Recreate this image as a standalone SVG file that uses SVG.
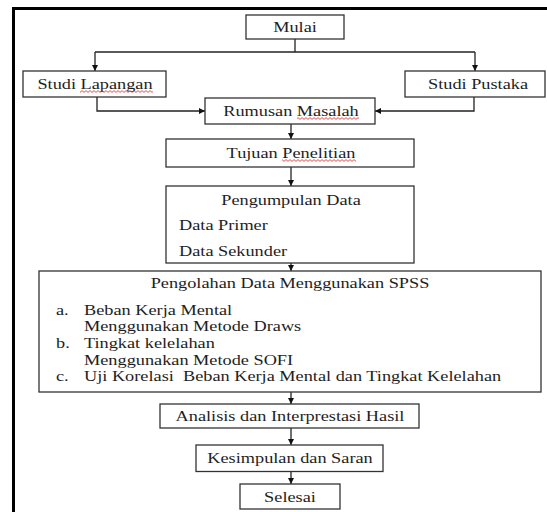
<svg xmlns="http://www.w3.org/2000/svg" width="547" height="512" viewBox="0 0 547 512">
<style>
.box{fill:#fff;stroke:#333;stroke-width:1.3}
.t{font-family:'Liberation Serif','DejaVu Serif','Times New Roman',serif;font-size:15.5px;fill:#1e1e1e}
.c{text-anchor:middle}
.ln{fill:none;stroke:#222;stroke-width:1.3}
.sq{fill:url(#sq)}
</style>
<defs>
<marker id="ah" viewBox="0 0 8 8" refX="8" refY="4" markerWidth="6" markerHeight="6" orient="auto" markerUnits="userSpaceOnUse"><path d="M0,0 L8,4 L0,8 z" fill="#111"/></marker>
<pattern id="sq" width="4" height="3" patternUnits="userSpaceOnUse"><path d="M0,2.4 L2,0.6 L4,2.4" fill="none" stroke="#e02020" stroke-width="0.8"/></pattern>
</defs>
<rect x="0" y="0" width="547" height="512" fill="#fff"/>
<rect id="frame" x="13.5" y="8.5" width="700" height="700" fill="none" stroke="#000" stroke-width="3"/>
<g id="connectors">
<path class="ln" d="M295,39 V52"/>
<path class="ln" d="M95,52 H475"/>
<path class="ln" d="M95,52 V71" marker-end="url(#ah)"/>
<path class="ln" d="M475,52 V71" marker-end="url(#ah)"/>
<path class="ln" d="M97,97 V111 H205" marker-end="url(#ah)"/>
<path class="ln" d="M474,97 V111 H375" marker-end="url(#ah)"/>
<path class="ln" d="M291,124 V139" marker-end="url(#ah)"/>
<path class="ln" d="M291,167 V186" marker-end="url(#ah)"/>
<path class="ln" d="M291,263 V271" marker-end="url(#ah)"/>
<path class="ln" d="M291,392 V404" marker-end="url(#ah)"/>
<path class="ln" d="M291,428 V445" marker-end="url(#ah)"/>
<path class="ln" d="M291,471.5 V484" marker-end="url(#ah)"/>
</g>
<g font-family="Liberation Serif, DejaVu Serif, serif">
<g id="mulai">
<rect class="box" x="246" y="15" width="98" height="24"/>
<text class="t c" transform="translate(295,32) scale(1.18,1)">Mulai</text>
</g>
<g id="studi-lapangan">
<rect class="box" x="23" y="71" width="143" height="26"/>
<text class="t c" transform="translate(95,89) scale(1.18,1)">Studi Lapangan</text>
<rect class="sq" x="80" y="90" width="73" height="3"/>
</g>
<g id="studi-pustaka">
<rect class="box" x="405" y="71" width="140" height="26"/>
<text class="t c" transform="translate(478,89) scale(1.18,1)">Studi Pustaka</text>
</g>
<g id="rumusan-masalah">
<rect class="box" x="205" y="98" width="170" height="26"/>
<text class="t c" transform="translate(291,116) scale(1.18,1)">Rumusan Masalah</text>
<rect class="sq" x="297" y="117" width="62" height="3"/>
</g>
<g id="tujuan-penelitian">
<rect class="box" x="166" y="139" width="248" height="28"/>
<text class="t c" transform="translate(291,158) scale(1.18,1)">Tujuan Penelitian</text>
<rect class="sq" x="282" y="159" width="74" height="3"/>
</g>
<g id="pengumpulan-data">
<rect class="box" x="166" y="186" width="248" height="77"/>
<text class="t c" transform="translate(291,205) scale(1.18,1)">Pengumpulan Data</text>
<text class="t" transform="translate(179,230) scale(1.18,1)">Data Primer</text>
<text class="t" transform="translate(179,256) scale(1.18,1)">Data Sekunder</text>
</g>
<g id="pengolahan-data">
<rect class="box" x="39" y="271" width="502" height="121"/>
<text class="t c" transform="translate(290,288) scale(1.18,1)">Pengolahan Data Menggunakan SPSS</text>
<text class="t" transform="translate(56,315) scale(1.18,1)">a.</text>
<text class="t" transform="translate(84,315) scale(1.18,1)">Beban Kerja Mental</text>
<text class="t" transform="translate(84,331) scale(1.18,1)">Menggunakan Metode Draws</text>
<text class="t" transform="translate(56,348) scale(1.18,1)">b.</text>
<text class="t" transform="translate(84,348) scale(1.18,1)">Tingkat kelelahan</text>
<text class="t" transform="translate(84,365) scale(1.18,1)">Menggunakan Metode SOFI</text>
<text class="t" transform="translate(56,381) scale(1.18,1)">c.</text>
<text class="t" transform="translate(84,381) scale(1.18,1)" xml:space="preserve">Uji Korelasi  Beban Kerja Mental dan Tingkat Kelelahan</text>
</g>
<g id="analisis">
<rect class="box" x="160" y="404" width="259" height="24"/>
<text class="t c" transform="translate(290,421) scale(1.18,1)">Analisis dan Interprestasi Hasil</text>
</g>
<g id="kesimpulan">
<rect class="box" x="196" y="445" width="187" height="26.5"/>
<text class="t c" transform="translate(290,463) scale(1.18,1)">Kesimpulan dan Saran</text>
</g>
<g id="selesai">
<rect class="box" x="240" y="484" width="100" height="25"/>
<text class="t c" transform="translate(290,501.5) scale(1.18,1)">Selesai</text>
</g>
</g>
</svg>
